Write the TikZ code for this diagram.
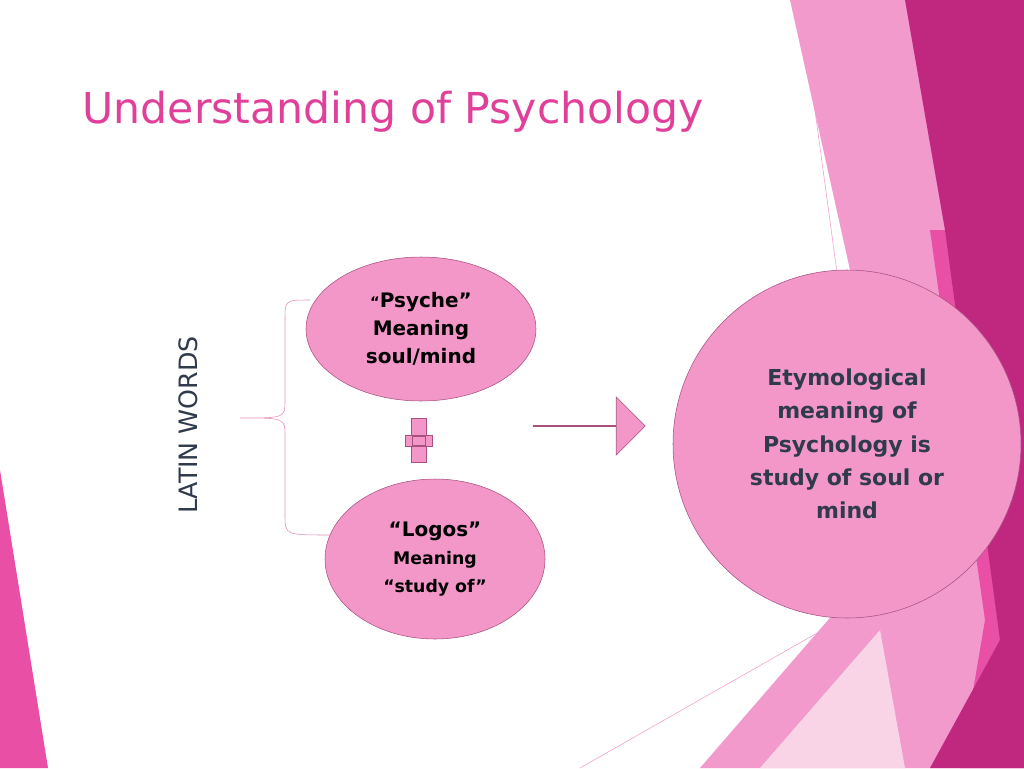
\documentclass[tikz,border=0pt]{standalone}
\usepackage{fontspec}
\setmainfont{DejaVu Sans}
\usetikzlibrary{shapes.geometric, shapes.arrows, positioning}
\definecolor{titlepink}{HTML}{E0409A}
\definecolor{bubble}{HTML}{F297C8}
\definecolor{bubbleline}{HTML}{A8507F}
\definecolor{inktext}{HTML}{2F3B4C}
\definecolor{lightband}{HTML}{F29ACB}
\definecolor{midband}{HTML}{E84FA5}
\definecolor{darkband}{HTML}{C0287F}
\definecolor{paleband}{HTML}{F9D3E6}
\tikzset{>=stealth}
\begin{document}
\begin{tikzpicture}[x=0.0264cm,y=-0.0264cm,
    bubble/.style={draw=bubbleline, fill=bubble, ellipse, align=center, inner sep=0pt,
        text=black, font=\bfseries\fontsize{15}{21}\selectfont},
    bigbubble/.style={draw=bubbleline, fill=bubble, circle, align=center, inner sep=0pt,
        text=inktext, font=\bfseries\fontsize{16.5}{25}\selectfont}]
        \useasboundingbox (0,0) rectangle (1024,768);
        % decoration
        \fill[lightband] (790,0) -- (1024,0) -- (1024,768) -- (700,768) -- (880,560) -- (850,270) -- cycle;
        \fill[paleband] (760,768) -- (880,630) -- (905,768) -- cycle;
        \fill[midband] (930,230) -- (1024,230) -- (1024,768) -- (960,768) -- (985,620) -- cycle;
        \fill[darkband] (905,0) -- (1024,0) -- (1024,768) -- (930,768) -- (1000,640) -- (945,230) -- cycle;
        \fill[midband] (0,470) -- (48,768) -- (0,768) -- cycle;
        \draw[lightband] (800,0) -- (838,280);
        \draw[lightband] (580,768) -- (840,620);

        \node[anchor=base west, text=titlepink, font=\fontsize{32}{36}\selectfont] (title) at (78,123) {Understanding of Psychology};

        \node[rotate=90, text=inktext, font=\fontsize{19}{22}\selectfont] (latin) at (188,425) {LATIN WORDS};

        \node[bubble, minimum width=230*0.0264cm, minimum height=144*0.0264cm] (psyche) at (421,329)
            {{\fontsize{11}{11}\selectfont``}Psyche''\\Meaning\\soul/mind};
        \node[bubble, minimum width=220*0.0264cm, minimum height=160*0.0264cm] (logos) at (435,559)
            {``Logos''\\{\fontsize{13}{21}\selectfont Meaning}\\{\fontsize{13}{21}\selectfont ``study of''}};
        \node[bigbubble, minimum size=348*0.0264cm] (result) at (847,444)
            {Etymological\\meaning of\\Psychology is\\study of soul or\\mind};
        \node[single arrow, draw=bubbleline, fill=bubble, minimum height=112*0.0264cm,
            minimum width=58*0.0264cm, single arrow head extend=15*0.0264cm, inner sep=0pt] (arrow) at (589,426) {};

        \draw[bubbleline, fill=bubble] (411,418) rectangle (426,462);
        \draw[bubbleline, fill=bubble] (405,435) rectangle (432,446);
        \fill[bubble] (412,436) rectangle (425,445);

        \coordinate (tip) at (240,418);
        \draw[bubble!80!bubbleline] (310,300) .. controls (285,300) .. (285,320) -- (285,400)
            .. controls (285,418) .. (tip) .. controls (285,418) .. (285,436) -- (285,515)
            .. controls (285,535) .. (330,535);
        \end{tikzpicture}
\end{document}
